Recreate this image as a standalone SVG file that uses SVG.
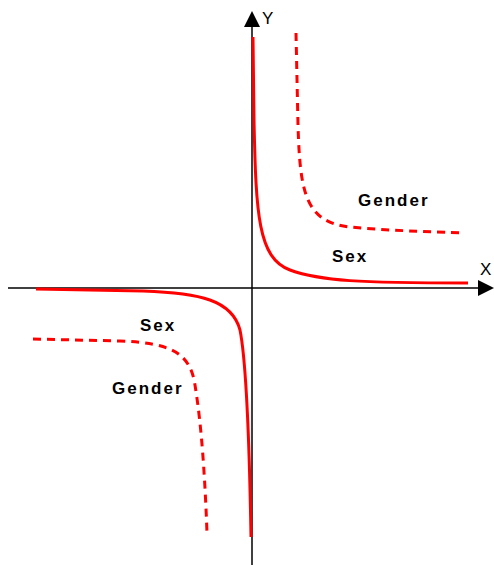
<svg xmlns="http://www.w3.org/2000/svg" width="494" height="565" viewBox="0 0 494 565">
<style>
.axis{stroke:#000;stroke-width:1.5;fill:none}
.solid{stroke:#f00;stroke-width:3;fill:none;stroke-linejoin:round}
.dash{stroke:#f00;stroke-width:3;fill:none;stroke-dasharray:8 6}
.lbl{font-family:"Liberation Sans",Arial,sans-serif;font-weight:bold;font-size:17px;letter-spacing:2px;fill:#000}
.ax{font-family:"Liberation Sans",Arial,sans-serif;font-size:17px;fill:#000}
</style>
<rect width="494" height="565" fill="#fff"/>
<g id="axes">
<line class="axis" x1="8" y1="288" x2="480" y2="288"/>
<polygon points="494,288 478,280 478,296" fill="#000"/>
<line class="axis" x1="252" y1="26" x2="252" y2="565"/>
<polygon points="252,11 244,27 260,27" fill="#000"/>
<text class="ax" x="262" y="24">Y</text>
<text class="ax" x="480" y="275">X</text>
</g>
<g id="curves">
<path class="solid" d="M253,37 L254,120 C256,215 258,258 290,270 C320,281 360,283 468,283"/>
<path class="dash" d="M296,33 L298,125 C300,195 306,222 350,227 C380,230 410,231 463,233"/>
<path class="solid" d="M36,289 L143,291 C200,293 232,300 240,330 C246,360 249,420 251,537"/>
<path class="dash" d="M33,339 L120,341 C170,343 190,352 195,385 C199,410 204,450 207,533"/>
</g>
<g id="labels">
<text class="lbl" x="358" y="206">Gender</text>
<text class="lbl" x="332" y="262">Sex</text>
<text class="lbl" x="140" y="331">Sex</text>
<text class="lbl" x="112" y="394">Gender</text>
</g>
</svg>
